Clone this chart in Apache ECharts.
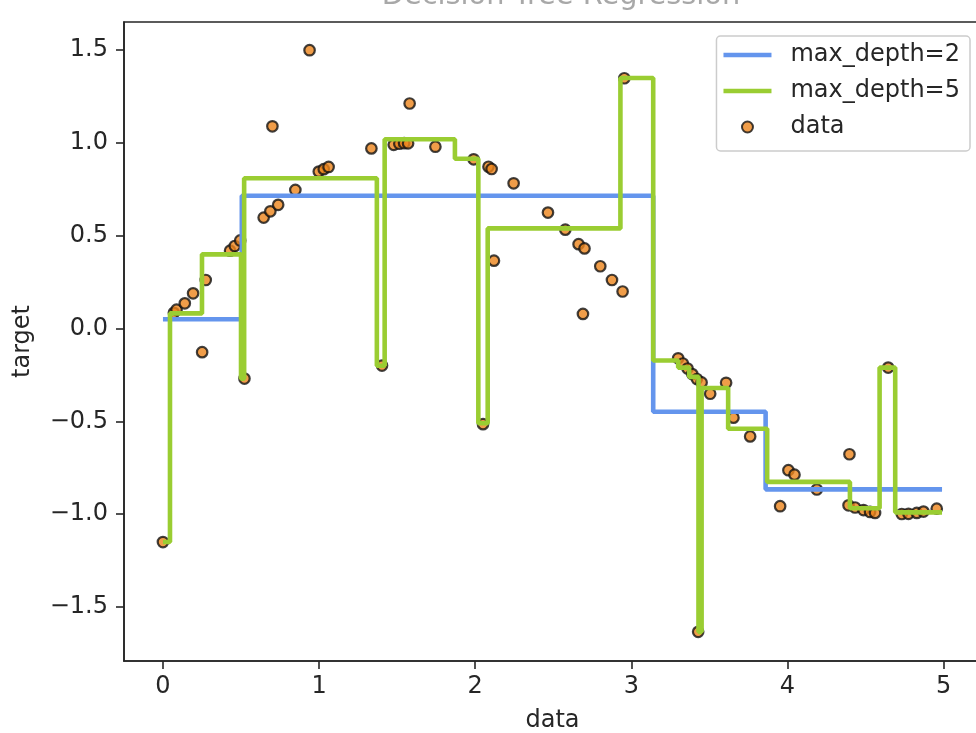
<!DOCTYPE html>
<html>
<head>
<meta charset="utf-8">
<title>Decision Tree Regression</title>
<script src="https://cdn.jsdelivr.net/npm/echarts@6/dist/echarts.min.js"></script>
<style>
  html, body { margin: 0; padding: 0; background: #fff; }
  #chart { width: 976px; height: 733px; }
</style>
</head>
<body>
<div id="chart"></div>
<script>
// Noisy samples of sin(x)
var dataX = [0.000, 0.070, 0.087, 0.140, 0.193, 0.251, 0.274, 0.430, 0.460, 0.495,
             0.522, 0.645, 0.688, 0.701, 0.738, 0.848, 0.939, 0.998, 1.030, 1.061,
             1.335, 1.403, 1.478, 1.514, 1.545, 1.570, 1.580, 1.745, 1.990, 2.050,
             2.085, 2.105, 2.120, 2.246, 2.466, 2.577, 2.662, 2.690, 2.700, 2.801,
             2.876, 2.944, 2.955, 3.300, 3.330, 3.360, 3.390, 3.420, 3.428, 3.450,
             3.505, 3.607, 3.654, 3.761, 3.953, 4.006, 4.045, 4.188, 4.391, 4.397,
             4.433, 4.487, 4.529, 4.561, 4.645, 4.732, 4.775, 4.828, 4.871, 4.956];
var dataY = [-1.150, 0.085, 0.102, 0.136, 0.190, -0.127, 0.262, 0.420, 0.445, 0.475,
             -0.269, 0.598, 0.632, 1.090, 0.667, 0.747, 1.500, 0.846, 0.859, 0.871,
             0.971, -0.199, 0.990, 0.996, 0.999, 0.998, 1.213, 0.980, 0.912, -0.515,
             0.872, 0.860, 0.366, 0.783, 0.625, 0.533, 0.455, 0.079, 0.432, 0.336,
             0.262, 0.200, 1.349, -0.160, -0.188, -0.215, -0.245, -0.272, -1.634, -0.290,
             -0.351, -0.292, -0.480, -0.581, -0.957, -0.763, -0.787, -0.867, -0.952, -0.677,
             -0.964, -0.978, -0.988, -0.993, -0.210, -0.999, -0.998, -0.993, -0.986, -0.970];

// Tree predictions, as (start of leaf interval, leaf value)
var depth2X = [0, 0.505, 3.14, 3.86, 4.99];
var depth2Y = [0.050, 0.716, -0.448, -0.866, -0.866];

var depth5X = [0, 0.045, 0.25, 0.50, 0.52, 1.37, 1.42, 1.87, 2.02, 2.08, 2.93,
               3.14, 3.30, 3.37, 3.43, 3.45, 3.62, 3.87, 4.40, 4.59, 4.69, 4.99];
var depth5Y = [-1.15, 0.082, 0.40, -0.27, 0.81, -0.20, 1.02, 0.915, -0.51, 0.54, 1.35,
               -0.172, -0.21, -0.26, -1.634, -0.32, -0.54, -0.826, -0.968, -0.21, -0.99, -0.99];

var xTicks = [0, 1, 2, 3, 4, 5];
var yTicks = [-1.5, -1.0, -0.5, 0.0, 0.5, 1.0, 1.5];

function pairs(xs, ys) {
  return xs.map(function (x, i) { return [x, ys[i]]; });
}

var FONT = 'DejaVu Sans';
var INK = '#262626';
// plain horizontal bar used as the legend handle of the two step lines
var LINE_ICON = 'path://M0,0 L48,0 L48,4.5 L0,4.5 Z';

var chart = echarts.init(document.getElementById('chart'), null, { renderer: 'canvas' });

chart.setOption({
  animation: false,
  backgroundColor: '#ffffff',
  textStyle: { fontFamily: FONT },
  title: {
    text: 'Decision Tree Regression',
    left: 556,
    textAlign: 'center',
    top: -23,
    textStyle: { fontFamily: FONT, fontSize: 28.8, fontWeight: 'normal', color: '#a8a8a8' }
  },
  grid: {
    left: 124, top: 22, width: 857, height: 639,
    outerBoundsMode: 'none',
    containLabel: false,
    show: true, borderColor: INK, borderWidth: 1.6, backgroundColor: 'transparent'
  },
  legend: {
    right: 6, top: 36,
    orient: 'vertical',
    selectedMode: false,
    itemWidth: 48, itemHeight: 11, itemGap: 12,
    padding: [7, 10, 12, 7],
    backgroundColor: 'rgba(255,255,255,0.8)',
    borderColor: '#cccccc', borderWidth: 1.5, borderRadius: 4,
    textStyle: { fontFamily: FONT, fontSize: 24, lineHeight: 24, color: INK, padding: [0, 0, 0, 14] },
    data: [
      { name: 'max_depth=2', icon: LINE_ICON },
      { name: 'max_depth=5', icon: LINE_ICON },
      { name: 'data', icon: 'circle' }
    ]
  },
  xAxis: {
    type: 'value',
    min: -0.2495, max: 5.2395,
    name: 'data', nameLocation: 'middle', nameGap: 48,
    nameTextStyle: { fontFamily: FONT, fontSize: 24, color: INK },
    axisLine: { show: true, onZero: false, lineStyle: { color: INK, width: 1.6 } },
    axisTick: { show: true, length: 8, customValues: xTicks, lineStyle: { color: INK, width: 1.6 } },
    axisLabel: {
      customValues: xTicks, margin: 14, fontFamily: FONT, fontSize: 24, color: INK,
      formatter: function (v) { return String(Math.round(v)); }
    },
    splitLine: { show: false }
  },
  yAxis: {
    type: 'value',
    min: -1.791, max: 1.652,
    name: 'target', nameLocation: 'middle', nameGap: 89, nameRotate: 90,
    nameTextStyle: { fontFamily: FONT, fontSize: 24, color: INK },
    axisLine: { show: true, onZero: false, lineStyle: { color: INK, width: 1.6 } },
    axisTick: { show: true, length: 8, customValues: yTicks, lineStyle: { color: INK, width: 1.6 } },
    axisLabel: {
      customValues: yTicks, margin: 16, fontFamily: FONT, fontSize: 24, color: INK,
      formatter: function (v) { return v.toFixed(1).replace('-', '\u2212'); }
    },
    splitLine: { show: false }
  },
  series: [
    {
      name: 'data',
      type: 'scatter',
      z: 2,
      symbol: 'circle',
      symbolSize: 10.5,
      itemStyle: { color: '#ec841c', borderColor: '#111', borderWidth: 2.2 },
      emphasis: { disabled: true },
      data: pairs(dataX, dataY)
    },
    {
      name: 'max_depth=2',
      type: 'line',
      z: 3,
      step: 'end',
      symbol: 'none',
      lineStyle: { color: '#6495ed', width: 4.6 },
      itemStyle: { color: '#6495ed' },
      emphasis: { disabled: true },
      data: pairs(depth2X, depth2Y)
    },
    {
      name: 'max_depth=5',
      type: 'line',
      z: 4,
      step: 'end',
      symbol: 'none',
      lineStyle: { color: '#9acd32', width: 4.6 },
      itemStyle: { color: '#9acd32' },
      emphasis: { disabled: true },
      data: pairs(depth5X, depth5Y)
    }
  ]
});
</script>
</body>
</html>
